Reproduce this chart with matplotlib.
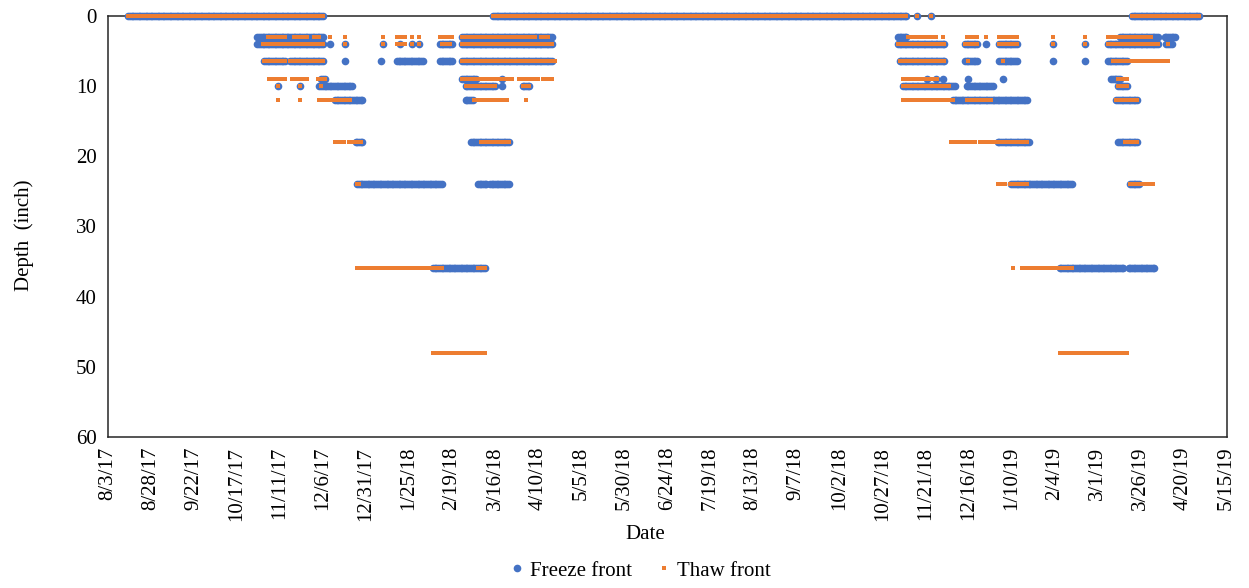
import pandas as pd
import matplotlib
matplotlib.use("Agg")
import matplotlib.pyplot as plt

plt.rcParams.update({
    "font.family": "Liberation Serif",
    "font.size": 15,
})

# Runs of daily readings: (depth in inch, first date, last date)
FREEZE_RUNS = [
    (0, "2017-08-15", "2017-12-06"), (0, "2018-03-15", "2018-11-10"),
    (0, "2018-11-16", "2018-11-16"), (0, "2018-11-24", "2018-11-24"),
    (0, "2019-03-21", "2019-04-29"),
    (3, "2017-10-29", "2017-12-06"), (3, "2018-02-25", "2018-04-18"),
    (3, "2018-11-05", "2018-11-10"), (3, "2019-03-14", "2019-04-05"),
    (3, "2019-04-09", "2019-04-15"),
    (4, "2017-10-29", "2017-12-06"), (4, "2017-12-10", "2017-12-10"),
    (4, "2017-12-19", "2017-12-19"), (4, "2018-01-10", "2018-01-10"),
    (4, "2018-01-20", "2018-01-20"), (4, "2018-01-27", "2018-01-27"),
    (4, "2018-01-31", "2018-01-31"), (4, "2018-02-12", "2018-02-19"),
    (4, "2018-02-25", "2018-04-18"), (4, "2018-11-05", "2018-12-02"),
    (4, "2018-12-14", "2018-12-21"), (4, "2018-12-26", "2018-12-26"),
    (4, "2019-01-03", "2019-01-13"), (4, "2019-02-03", "2019-02-03"),
    (4, "2019-02-22", "2019-02-22"), (4, "2019-03-07", "2019-04-05"),
    (4, "2019-04-10", "2019-04-13"),
    (6.5, "2017-11-02", "2017-11-14"), (6.5, "2017-11-17", "2017-12-06"),
    (6.5, "2017-12-19", "2017-12-19"), (6.5, "2018-01-09", "2018-01-09"),
    (6.5, "2018-01-18", "2018-02-02"), (6.5, "2018-02-12", "2018-02-19"),
    (6.5, "2018-02-25", "2018-04-18"), (6.5, "2018-11-06", "2018-12-02"),
    (6.5, "2018-12-14", "2018-12-21"), (6.5, "2019-01-03", "2019-01-13"),
    (6.5, "2019-02-03", "2019-02-03"), (6.5, "2019-02-22", "2019-02-22"),
    (6.5, "2019-03-07", "2019-03-18"),
    (9, "2017-12-05", "2017-12-07"), (9, "2018-02-25", "2018-03-05"),
    (9, "2018-03-20", "2018-03-20"), (9, "2018-11-22", "2018-11-22"),
    (9, "2018-11-27", "2018-11-27"), (9, "2018-12-01", "2018-12-01"),
    (9, "2018-12-16", "2018-12-16"), (9, "2019-01-05", "2019-01-05"),
    (9, "2019-03-09", "2019-03-14"),
    (10, "2017-11-10", "2017-11-10"), (10, "2017-11-23", "2017-11-23"),
    (10, "2017-12-04", "2017-12-23"), (10, "2018-02-27", "2018-03-16"),
    (10, "2018-03-20", "2018-03-20"), (10, "2018-04-01", "2018-04-05"),
    (10, "2018-11-08", "2018-12-08"), (10, "2018-12-15", "2018-12-30"),
    (10, "2019-03-13", "2019-03-18"),
    (12, "2017-12-13", "2017-12-29"), (12, "2018-02-27", "2018-03-03"),
    (12, "2018-12-07", "2019-01-19"), (12, "2019-03-12", "2019-03-24"),
    (18, "2017-12-25", "2017-12-29"), (18, "2018-03-02", "2018-03-24"),
    (18, "2019-01-02", "2019-01-20"), (18, "2019-03-13", "2019-03-24"),
    (24, "2017-12-26", "2018-02-13"), (24, "2018-03-06", "2018-03-11"),
    (24, "2018-03-13", "2018-03-24"), (24, "2019-01-10", "2019-02-14"),
    (24, "2019-03-20", "2019-03-25"),
    (36, "2018-02-08", "2018-03-10"), (36, "2019-02-07", "2019-03-16"),
    (36, "2019-03-19", "2019-04-03"),
]

THAW_RUNS = [
    (0, "2017-08-15", "2017-12-06"), (0, "2018-03-15", "2018-11-10"),
    (0, "2018-11-16", "2018-11-16"), (0, "2018-11-24", "2018-11-24"),
    (0, "2019-03-21", "2019-04-29"),
    (3, "2017-11-04", "2017-11-14"), (3, "2017-11-19", "2017-11-27"),
    (3, "2017-12-01", "2017-12-04"), (3, "2017-12-10", "2017-12-10"),
    (3, "2017-12-19", "2017-12-19"), (3, "2018-01-10", "2018-01-10"),
    (3, "2018-01-18", "2018-01-23"), (3, "2018-01-27", "2018-01-27"),
    (3, "2018-01-31", "2018-01-31"), (3, "2018-02-12", "2018-02-19"),
    (3, "2018-02-25", "2018-04-08"), (3, "2018-04-12", "2018-04-16"),
    (3, "2018-11-11", "2018-11-27"), (3, "2018-12-01", "2018-12-01"),
    (3, "2018-12-15", "2018-12-21"), (3, "2018-12-26", "2018-12-26"),
    (3, "2019-01-03", "2019-01-13"), (3, "2019-02-03", "2019-02-03"),
    (3, "2019-02-22", "2019-02-22"), (3, "2019-03-07", "2019-04-01"),
    (4, "2017-11-01", "2017-12-06"), (4, "2017-12-19", "2017-12-19"),
    (4, "2018-01-10", "2018-01-10"), (4, "2018-01-18", "2018-01-23"),
    (4, "2018-01-27", "2018-01-27"), (4, "2018-01-31", "2018-01-31"),
    (4, "2018-02-13", "2018-02-18"), (4, "2018-02-25", "2018-04-18"),
    (4, "2018-11-05", "2018-12-02"), (4, "2018-12-14", "2018-12-21"),
    (4, "2019-01-03", "2019-01-13"), (4, "2019-02-03", "2019-02-03"),
    (4, "2019-02-22", "2019-02-22"), (4, "2019-03-07", "2019-04-05"),
    (4, "2019-04-11", "2019-04-11"),
    (6.5, "2017-11-02", "2017-11-14"), (6.5, "2017-11-17", "2017-12-06"),
    (6.5, "2018-02-25", "2018-04-10"), (6.5, "2018-04-12", "2018-04-18"),
    (6.5, "2018-04-20", "2018-04-20"), (6.5, "2018-11-06", "2018-12-02"),
    (6.5, "2018-12-16", "2018-12-16"), (6.5, "2019-01-05", "2019-01-05"),
    (6.5, "2019-03-10", "2019-04-09"), (6.5, "2019-04-11", "2019-04-11"),
    (9, "2017-11-05", "2017-11-14"), (9, "2017-11-18", "2017-11-27"),
    (9, "2017-12-03", "2017-12-07"), (9, "2018-02-25", "2018-03-26"),
    (9, "2018-03-30", "2018-04-10"), (9, "2018-04-13", "2018-04-18"),
    (9, "2018-11-08", "2018-11-28"), (9, "2019-03-13", "2019-03-18"),
    (10, "2017-11-10", "2017-11-10"), (10, "2017-11-23", "2017-11-23"),
    (10, "2017-12-05", "2017-12-05"), (10, "2018-02-27", "2018-03-16"),
    (10, "2018-04-01", "2018-04-05"), (10, "2018-11-08", "2018-12-05"),
    (10, "2019-03-13", "2019-03-18"),
    (12, "2017-11-10", "2017-11-10"), (12, "2017-11-23", "2017-11-23"),
    (12, "2017-12-04", "2017-12-22"), (12, "2018-03-04", "2018-03-23"),
    (12, "2018-04-03", "2018-04-03"), (12, "2018-11-08", "2018-12-07"),
    (12, "2018-12-15", "2018-12-29"), (12, "2019-03-12", "2019-03-24"),
    (18, "2017-12-13", "2017-12-18"), (18, "2017-12-21", "2017-12-28"),
    (18, "2018-03-08", "2018-03-24"), (18, "2018-12-06", "2018-12-20"),
    (18, "2018-12-23", "2019-01-19"), (18, "2019-03-17", "2019-03-24"),
    (24, "2017-12-26", "2017-12-27"), (24, "2019-01-02", "2019-01-06"),
    (24, "2019-01-09", "2019-01-19"), (24, "2019-03-20", "2019-04-02"),
    (36, "2017-12-26", "2018-02-13"), (36, "2018-03-06", "2018-03-10"),
    (36, "2019-01-11", "2019-01-11"), (36, "2019-01-16", "2019-02-14"),
    (48, "2018-02-08", "2018-03-10"), (48, "2019-02-07", "2019-03-18"),
]

X_START, X_END = "2017-08-03", "2019-05-15"
Y_TICKS = [0, 10, 20, 30, 40, 50, 60]

BLUE = "#4472C4"
ORANGE = "#ED7D31"


def expand(runs):
    frames = [pd.DataFrame({"date": pd.date_range(a, b, freq="D"), "depth": d})
              for d, a, b in runs]
    return pd.concat(frames, ignore_index=True)


freeze = expand(FREEZE_RUNS)
thaw = expand(THAW_RUNS)

fig = plt.figure(figsize=(12.49, 5.88), dpi=100)
ax = fig.add_axes([0.0862, 0.2568, 0.8959, 0.7165])

ax.plot(freeze["date"], freeze["depth"], ls="none", marker="o", ms=5.5,
        mew=0, color=BLUE, clip_on=False, label="Freeze front", zorder=3)
ax.plot(thaw["date"], thaw["depth"], ls="none", marker="s", ms=3.0,
        mew=0, color=ORANGE, clip_on=False, label="Thaw front", zorder=4)

ticks = pd.date_range(X_START, X_END, freq="25D")
ax.set_xlim(pd.Timestamp(X_START), pd.Timestamp(X_END))
ax.set_xticks(ticks)
ax.set_xticklabels([f"{t.month}/{t.day}/{t.strftime('%y')}" for t in ticks],
                   rotation=90, ha="center", va="top")
ax.set_ylim(60, 0)
ax.set_yticks(Y_TICKS)
ax.tick_params(axis="both", length=0)
ax.tick_params(axis="x", pad=7)
ax.tick_params(axis="y", pad=8)

for sp in ax.spines.values():
    sp.set_color("#262626")
    sp.set_linewidth(1.1)

ax.set_ylabel("Depth  (inch)")
ax.yaxis.set_label_coords(-0.066, 0.48)
ax.set_xlabel("Date")
ax.xaxis.set_label_coords(0.48, -0.209)

fig.legend(loc="center", bbox_to_anchor=(0.513, 0.029), ncol=2, frameon=False,
           handlelength=0.6, handletextpad=0.35, columnspacing=1.2,
           borderpad=0.2)

fig.savefig("out.png", dpi=100)
